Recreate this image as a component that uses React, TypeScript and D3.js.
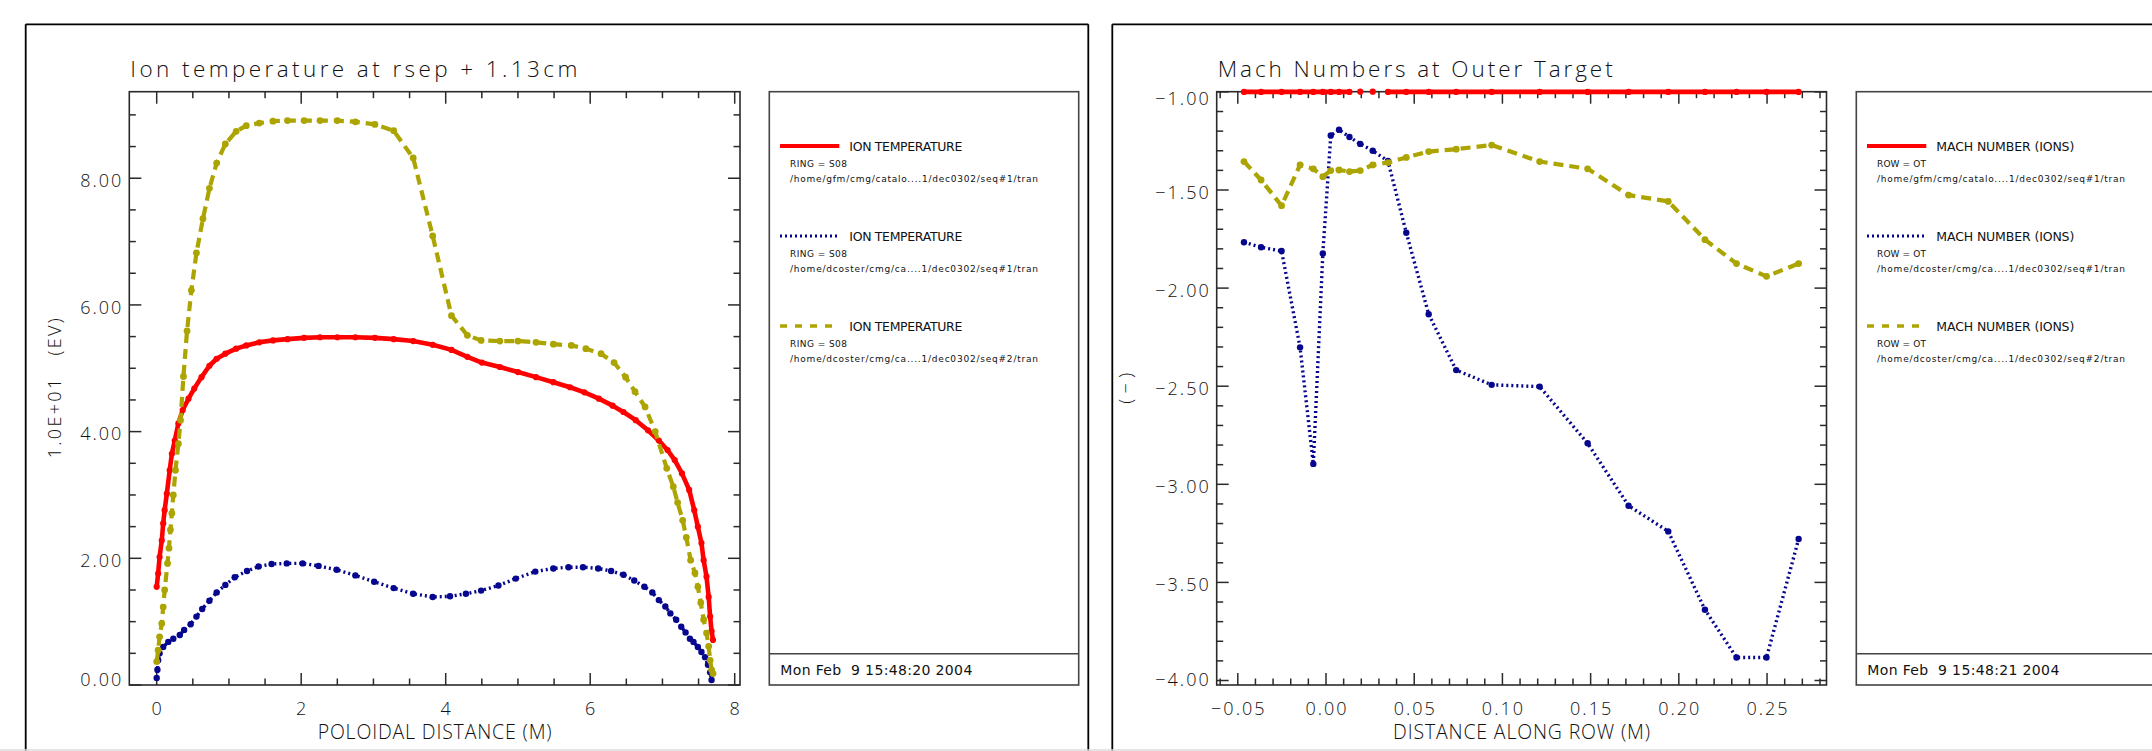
import React from 'react';
import * as d3 from 'd3';

const W = 2152;
const H = 751;

// ---------- Ion temperature at rsep + 1.13 cm (units of 10 eV) ----------
const tiGfmSeq1X = [0.0, 0.02, 0.04, 0.07, 0.09, 0.11, 0.14, 0.18, 0.21, 0.25, 0.30, 0.36, 0.44, 0.52, 0.62, 0.73, 0.83, 0.95, 1.10, 1.24, 1.42, 1.61, 1.81, 2.04, 2.26, 2.50, 2.75, 3.02, 3.28, 3.55, 3.82, 4.08, 4.30, 4.50, 4.75, 5.00, 5.25, 5.49, 5.72, 5.92, 6.12, 6.31, 6.46, 6.63, 6.80, 6.95, 7.07, 7.17, 7.27, 7.37, 7.44, 7.49, 7.54, 7.57, 7.61, 7.64, 7.66, 7.68, 7.70];
const tiGfmSeq1Y = [1.55, 1.76, 2.02, 2.28, 2.55, 2.76, 3.02, 3.39, 3.65, 3.86, 4.13, 4.34, 4.52, 4.68, 4.86, 5.04, 5.15, 5.23, 5.31, 5.36, 5.41, 5.44, 5.46, 5.48, 5.49, 5.49, 5.49, 5.48, 5.46, 5.43, 5.37, 5.29, 5.18, 5.09, 5.02, 4.94, 4.86, 4.78, 4.70, 4.62, 4.52, 4.41, 4.31, 4.18, 4.02, 3.86, 3.71, 3.55, 3.34, 3.08, 2.76, 2.50, 2.24, 1.97, 1.71, 1.39, 1.08, 0.85, 0.71];

const tiDcSeq1X = [0.0, 0.01, 0.02, 0.04, 0.09, 0.16, 0.23, 0.32, 0.38, 0.47, 0.55, 0.63, 0.73, 0.83, 0.95, 1.08, 1.25, 1.41, 1.59, 1.80, 2.02, 2.24, 2.49, 2.75, 3.01, 3.28, 3.55, 3.82, 4.06, 4.28, 4.49, 4.73, 4.97, 5.24, 5.49, 5.70, 5.90, 6.11, 6.29, 6.46, 6.61, 6.75, 6.86, 6.95, 7.04, 7.11, 7.19, 7.26, 7.32, 7.38, 7.43, 7.49, 7.54, 7.59, 7.63, 7.66, 7.68];
const tiDcSeq1Y = [0.11, 0.24, 0.39, 0.50, 0.60, 0.68, 0.73, 0.79, 0.87, 0.96, 1.08, 1.20, 1.33, 1.46, 1.58, 1.70, 1.80, 1.87, 1.91, 1.92, 1.92, 1.88, 1.82, 1.73, 1.63, 1.53, 1.44, 1.39, 1.40, 1.44, 1.49, 1.57, 1.68, 1.79, 1.84, 1.86, 1.86, 1.84, 1.80, 1.74, 1.65, 1.55, 1.46, 1.34, 1.24, 1.13, 1.03, 0.92, 0.83, 0.73, 0.68, 0.60, 0.52, 0.44, 0.32, 0.20, 0.08];

const tiDcSeq2X = [0.0, 0.02, 0.04, 0.07, 0.09, 0.11, 0.15, 0.17, 0.19, 0.21, 0.23, 0.26, 0.30, 0.33, 0.37, 0.42, 0.48, 0.55, 0.64, 0.73, 0.83, 0.95, 1.10, 1.24, 1.42, 1.61, 1.81, 2.04, 2.26, 2.50, 2.75, 3.02, 3.28, 3.55, 3.82, 4.08, 4.30, 4.49, 4.75, 5.00, 5.25, 5.49, 5.74, 5.94, 6.15, 6.33, 6.49, 6.62, 6.76, 6.90, 7.06, 7.15, 7.21, 7.28, 7.33, 7.39, 7.45, 7.49, 7.53, 7.57, 7.61, 7.64, 7.66, 7.68, 7.70];
const tiDcSeq2Y = [0.37, 0.55, 0.76, 0.97, 1.23, 1.50, 1.92, 2.16, 2.45, 2.71, 3.00, 3.39, 3.81, 4.18, 4.87, 5.59, 6.23, 6.82, 7.36, 7.84, 8.24, 8.54, 8.74, 8.83, 8.87, 8.90, 8.91, 8.91, 8.91, 8.91, 8.89, 8.85, 8.75, 8.32, 7.09, 5.83, 5.52, 5.44, 5.43, 5.43, 5.41, 5.38, 5.36, 5.31, 5.23, 5.09, 4.86, 4.63, 4.39, 4.00, 3.42, 3.13, 2.88, 2.60, 2.33, 1.97, 1.77, 1.55, 1.30, 1.03, 0.82, 0.61, 0.39, 0.24, 0.18];

const tiXMajor = [0, 2, 4, 6, 8];
const tiXLabels = ['0', '2', '4', '6', '8'];
const tiYMajor = [0, 2, 4, 6, 8];
const tiYLabels = ['0.00', '2.00', '4.00', '6.00', '8.00'];

// ---------- Mach numbers at the outer target ----------
const rowDist = [-0.0465, -0.0368, -0.0252, -0.0147, -0.0072, -0.0018, 0.0027, 0.0074, 0.0133, 0.0194, 0.0265, 0.0351, 0.0455, 0.0582, 0.0738, 0.0939, 0.1211, 0.1483, 0.1715, 0.194, 0.2148, 0.2327, 0.2497, 0.2679];
const machGfmSeq1 = [-1.0, -1.0, -1.0, -1.0, -1.0, -1.0, -1.0, -1.0, -1.0, -0.99, -0.99, -1.0, -1.0, -1.0, -1.0, -1.0, -1.0, -1.0, -1.0, -1.0, -1.0, -1.0, -1.0, -1.0];
const machDcSeq1 = [-1.766, -1.792, -1.811, -2.302, -2.896, -1.824, -1.222, -1.193, -1.230, -1.265, -1.300, -1.352, -1.718, -2.133, -2.418, -2.493, -2.502, -2.791, -3.109, -3.240, -3.639, -3.883, -3.883, -3.279];
const machDcSeq2 = [-1.355, -1.449, -1.580, -1.372, -1.392, -1.432, -1.401, -1.398, -1.406, -1.401, -1.372, -1.360, -1.334, -1.304, -1.292, -1.271, -1.355, -1.392, -1.526, -1.558, -1.753, -1.875, -1.940, -1.875];

const machXMajor = [-0.05, 0, 0.05, 0.1, 0.15, 0.2, 0.25];
const machXLabels = ['\u22120.05', '0.00', '0.05', '0.10', '0.15', '0.20', '0.25'];
const machYMajor = [-1, -1.5, -2, -2.5, -3, -3.5, -4];
const machYLabels = ['\u22121.00', '\u22121.50', '\u22122.00', '\u22122.50', '\u22123.00', '\u22123.50', '\u22124.00'];

const sourcePaths = [
  '/home/gfm/cmg/catalo....1/dec0302/seq#1/tran',
  '/home/dcoster/cmg/ca....1/dec0302/seq#1/tran',
  '/home/dcoster/cmg/ca....1/dec0302/seq#2/tran',
];

// ---------- styles ----------
const AXIS_FONT = "'Open Sans', 'DejaVu Sans', sans-serif";
const LEGEND_FONT = "'DejaVu Sans', 'Liberation Sans', sans-serif";
const RED = '#ff0000';
const NAVY = '#06068e';
const OLIVE = '#aca400';

const seriesStyles = [
  { color: RED, width: 4.6, dash: null, r: 3.1, legendWidth: 4, legendDash: null },
  { color: NAVY, width: 3.4, dash: '2,3', r: 3.2, legendWidth: 3, legendDash: '2,3' },
  { color: OLIVE, width: 4.2, dash: '10,6', r: 3.4, legendWidth: 3.5, legendDash: '7,8' },
];

type Series = { xs: number[]; ys: number[] };

type PanelCfg = {
  frameX: number;
  box: { x0: number; x1: number; y0: number; y1: number };
  xDomain: [number, number];
  yDomain: [number, number];
  xMajor: number[];
  xLabels: string[];
  xMinorStep: number;
  yMajor: number[];
  yLabels: string[];
  yMinorStep: number;
  title: string;
  titleLen: number;
  xTitle: string;
  xTitleLen: number;
  yTitle: string;
  yTitleLen: number;
  yTitleX: number;
  series: Series[];
  legendX: number;
  legendHeader: string;
  legendHeaderLen: number;
  legendSub: string;
  legendSubLen: number;
  date: string;
};

function minorTicks(domain: [number, number], step: number, majors: number[]) {
  const lo = Math.ceil(Math.min(...domain) / step - 1e-6);
  const hi = Math.floor(Math.max(...domain) / step + 1e-6);
  return d3
    .range(lo, hi + 1)
    .map((i) => +(i * step).toFixed(6))
    .filter((v) => !majors.some((m) => Math.abs(m - v) < step / 10));
}

function Panel({ cfg }: { cfg: PanelCfg }) {
  const { box } = cfg;
  const x = d3.scaleLinear().domain(cfg.xDomain).range([box.x0, box.x1]);
  const y = d3.scaleLinear().domain(cfg.yDomain).range([box.y1, box.y0]);
  const yPinned = y.copy().clamp(true);
  const yMax = Math.max(...cfg.yDomain);
  const yMin = Math.min(...cfg.yDomain);

  const xMinor = minorTicks(cfg.xDomain, cfg.xMinorStep, cfg.xMajor);
  const yMinor = minorTicks(cfg.yDomain, cfg.yMinorStep, cfg.yMajor);
  const MAJ = 12;
  const MIN = 6.5;
  const axisColor = '#2a2a2a';

  // values outside the y range break the line; their markers sit on the axis edge
  const lineGen = d3
    .line<[number, number]>()
    .defined((d) => d[1] <= yMax && d[1] >= yMin)
    .x((d) => x(d[0]))
    .y((d) => y(d[1]));

  const lx = cfg.legendX;
  const legendTop = box.y0;
  const legendBottom = box.y1;
  const dateLineY = legendBottom - 31.3;

  return (
    <g>
      {/* outer frame of the panel */}
      <line x1={cfg.frameX} y1={24.3} x2={cfg.frameX + 1062.6} y2={24.3} stroke="#000" strokeWidth={1.8} />
      <line x1={cfg.frameX} y1={24.3} x2={cfg.frameX} y2={H} stroke="#000" strokeWidth={1.8} />
      <line x1={cfg.frameX + 1062.6} y1={24.3} x2={cfg.frameX + 1062.6} y2={H} stroke="#000" strokeWidth={1.8} />

      {/* title */}
      <text
        x={box.x0 + 1}
        y={76.7}
        fontFamily={AXIS_FONT}
        fontWeight={300}
        fontSize={22.5}
        fill="#111"
        textLength={cfg.titleLen}
        lengthAdjust="spacing"
      >
        {cfg.title}
      </text>

      {/* axis box */}
      <rect
        x={box.x0}
        y={box.y0}
        width={box.x1 - box.x0}
        height={box.y1 - box.y0}
        fill="none"
        stroke={axisColor}
        strokeWidth={1.6}
      />

      {/* ticks on all four sides */}
      {[...cfg.xMajor.map((v) => [v, MAJ]), ...xMinor.map((v) => [v, MIN])].map(([v, len], k) => (
        <g key={'xt' + k} stroke={axisColor} strokeWidth={1.5}>
          <line x1={x(v)} x2={x(v)} y1={box.y1} y2={box.y1 - len} />
          <line x1={x(v)} x2={x(v)} y1={box.y0} y2={box.y0 + len} />
        </g>
      ))}
      {[...cfg.yMajor.map((v) => [v, MAJ]), ...yMinor.map((v) => [v, MIN])].map(([v, len], k) => (
        <g key={'yt' + k} stroke={axisColor} strokeWidth={1.5}>
          <line x1={box.x0} x2={box.x0 + len} y1={y(v)} y2={y(v)} />
          <line x1={box.x1} x2={box.x1 - len} y1={y(v)} y2={y(v)} />
        </g>
      ))}

      {/* data, drawn over the axes */}
      {cfg.series.map((s, i) => {
        const st = seriesStyles[i];
        const pts = s.xs.map((v, k) => [v, s.ys[k]] as [number, number]);
        return (
          <g key={'s' + i}>
            <path
              d={lineGen(pts) || ''}
              fill="none"
              stroke={st.color}
              strokeWidth={st.width}
              strokeDasharray={st.dash || undefined}
              strokeLinejoin="round"
            />
            {pts.map((p, k) => (
              <circle key={k} cx={x(p[0])} cy={yPinned(p[1])} r={st.r} fill={st.color} />
            ))}
          </g>
        );
      })}

      {/* tick labels */}
      {cfg.xMajor.map((v, k) => (
        <text
          key={'xl' + k}
          x={x(v) + 1}
          y={715}
          textAnchor="middle"
          fontFamily={AXIS_FONT}
          fontWeight={300}
          fontSize={18}
          letterSpacing={2}
          fill="#111"
        >
          {cfg.xLabels[k]}
        </text>
      ))}
      {cfg.yMajor.map((v, k) => {
        const base = Math.min(Math.max(y(v) + 8.6, box.y0 + 13.2), box.y1 + 1);
        return (
          <text
            key={'yl' + k}
            x={box.x0 - 6}
            y={base}
            textAnchor="end"
            fontFamily={AXIS_FONT}
            fontWeight={300}
            fontSize={18}
            letterSpacing={2}
            fill="#111"
          >
            {cfg.yLabels[k]}
          </text>
        );
      })}

      {/* axis titles */}
      <text
        x={(box.x0 + box.x1) / 2}
        y={739.3}
        textAnchor="middle"
        fontFamily={AXIS_FONT}
        fontWeight={300}
        fontSize={19.5}
        fill="#111"
        textLength={cfg.xTitleLen}
        lengthAdjust="spacing"
      >
        {cfg.xTitle}
      </text>
      <text
        transform={`translate(${cfg.yTitleX},${(box.y0 + box.y1) / 2}) rotate(-90)`}
        textAnchor="middle"
        fontFamily={AXIS_FONT}
        fontWeight={300}
        fontSize={18}
        fill="#111"
        textLength={cfg.yTitleLen}
        lengthAdjust="spacing"
        style={{ whiteSpace: 'pre' }}
      >
        {cfg.yTitle}
      </text>

      {/* legend box */}
      <rect
        x={lx}
        y={legendTop}
        width={309.4}
        height={legendBottom - legendTop}
        fill="none"
        stroke="#444"
        strokeWidth={1.6}
      />
      <line x1={lx} x2={lx + 309.4} y1={dateLineY} y2={dateLineY} stroke="#444" strokeWidth={1.6} />
      <text
        x={lx + 11}
        y={legendBottom - 10}
        fontFamily={LEGEND_FONT}
        fontSize={14}
        fill="#111"
        textLength={192}
        lengthAdjust="spacing"
        style={{ whiteSpace: 'pre' }}
      >
        {cfg.date}
      </text>
      {seriesStyles.map((st, i) => {
        const ly = 146 + 90 * i;
        return (
          <g key={'lg' + i}>
            <line
              x1={lx + 10.7}
              x2={lx + 70}
              y1={ly}
              y2={ly}
              stroke={st.color}
              strokeWidth={st.legendWidth}
              strokeDasharray={st.legendDash || undefined}
            />
            <text
              x={lx + 80}
              y={ly + 4.6}
              fontFamily={LEGEND_FONT}
              fontSize={12.5}
              fill="#111"
              textLength={cfg.legendHeaderLen}
              lengthAdjust="spacing"
            >
              {cfg.legendHeader}
            </text>
            <text
              x={lx + 20.7}
              y={ly + 20.7}
              fontFamily={LEGEND_FONT}
              fontSize={9}
              fill="#111"
              textLength={cfg.legendSubLen}
              lengthAdjust="spacing"
            >
              {cfg.legendSub}
            </text>
            <text
              x={lx + 20.7}
              y={ly + 36}
              fontFamily={LEGEND_FONT}
              fontSize={9}
              fill="#111"
              textLength={248}
              lengthAdjust="spacing"
            >
              {sourcePaths[i]}
            </text>
          </g>
        );
      })}
    </g>
  );
}

const tiPanel: PanelCfg = {
  frameX: 25.7,
  box: { x0: 129.3, x1: 740, y0: 91.7, y1: 685 },
  xDomain: [-0.3792, 8.0734],
  yDomain: [0, 9.366],
  xMajor: tiXMajor,
  xLabels: tiXLabels,
  xMinorStep: 0.5,
  yMajor: tiYMajor,
  yLabels: tiYLabels,
  yMinorStep: 0.5,
  title: 'Ion temperature at rsep + 1.13cm',
  titleLen: 447,
  xTitle: 'POLOIDAL DISTANCE (M)',
  xTitleLen: 234,
  yTitle: '1.0E+01   (EV)',
  yTitleLen: 140,
  yTitleX: 61,
  series: [
    { xs: tiGfmSeq1X, ys: tiGfmSeq1Y },
    { xs: tiDcSeq1X, ys: tiDcSeq1Y },
    { xs: tiDcSeq2X, ys: tiDcSeq2Y },
  ],
  legendX: 769.3,
  legendHeader: 'ION  TEMPERATURE',
  legendHeaderLen: 113,
  legendSub: 'RING  =  S08',
  legendSubLen: 57,
  date: 'Mon Feb  9 15:48:20 2004',
};

const machPanel: PanelCfg = {
  frameX: 1112.3,
  box: { x0: 1216.7, x1: 1826.5, y0: 91.7, y1: 685 },
  xDomain: [-0.06196, 0.2837],
  yDomain: [-4.0229, -0.999],
  xMajor: machXMajor,
  xLabels: machXLabels,
  xMinorStep: 0.01,
  yMajor: machYMajor,
  yLabels: machYLabels,
  yMinorStep: 0.1,
  title: 'Mach Numbers at Outer Target',
  titleLen: 395,
  xTitle: 'DISTANCE ALONG ROW (M)',
  xTitleLen: 257,
  yTitle: '(\u2212)',
  yTitleLen: 31,
  yTitleX: 1132,
  series: [
    { xs: rowDist, ys: machGfmSeq1 },
    { xs: rowDist, ys: machDcSeq1 },
    { xs: rowDist, ys: machDcSeq2 },
  ],
  legendX: 1856.3,
  legendHeader: 'MACH  NUMBER  (IONS)',
  legendHeaderLen: 138,
  legendSub: 'ROW  =  OT',
  legendSubLen: 49,
  date: 'Mon Feb  9 15:48:21 2004',
};

export default function App() {
  return (
    <svg
      width={W}
      height={H}
      viewBox={`0 0 ${W} ${H}`}
      style={{ position: 'absolute', left: 0, top: 0, display: 'block', background: '#fff' }}
    >
      <rect x={0} y={0} width={W} height={H} fill="#fff" />
      <Panel cfg={tiPanel} />
      <Panel cfg={machPanel} />
      <line x1={0} x2={W} y1={750} y2={750} stroke="#dcdcdc" strokeWidth={1.5} />
    </svg>
  );
}
